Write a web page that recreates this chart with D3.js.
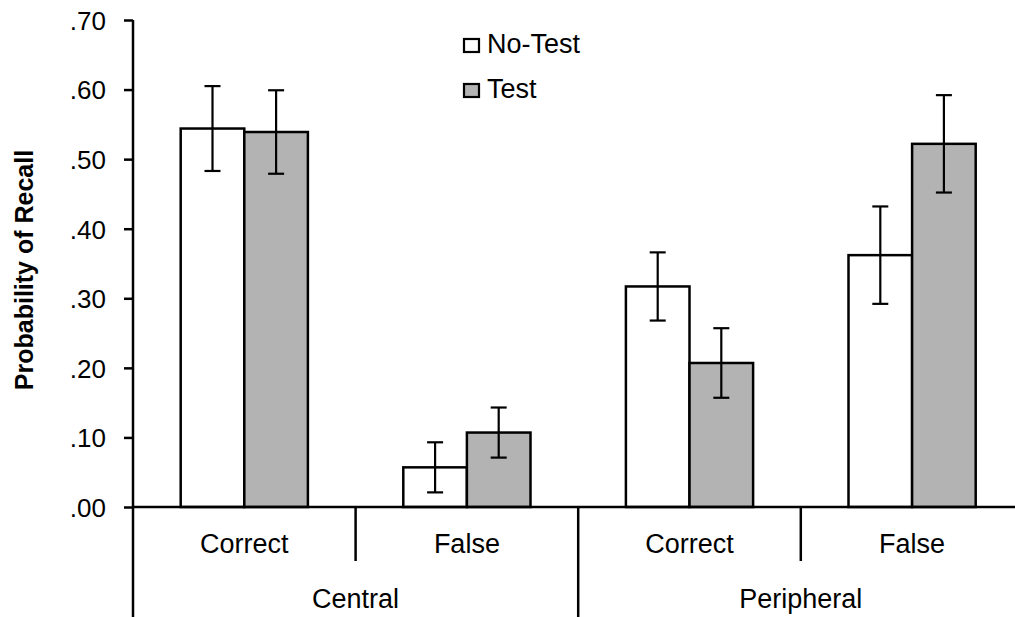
<!DOCTYPE html>
<html>
<head>
<meta charset="utf-8">
<script src="https://cdn.jsdelivr.net/npm/d3@7"></script>
<style>
  body { margin: 0; background: #fff; }
  text { font-family: "Liberation Sans", Arial, sans-serif; fill: #000; }
</style>
</head>
<body>
<div id="chart"></div>
<script>
// data
var groups = ["Central", "Peripheral"];
var conditions = ["Correct", "False"];
var series = ["No-Test", "Test"];
var noTestValues = [0.544, 0.057, 0.317, 0.362];
var noTestErrors = [0.061, 0.036, 0.049, 0.070];
var testValues = [0.539, 0.107, 0.207, 0.522];
var testErrors = [0.060, 0.036, 0.050, 0.070];
var yTicks = [0, 0.1, 0.2, 0.3, 0.4, 0.5, 0.6, 0.7];

function init() {
    var w = 1015;
    var h = 617;
    var left = 133;
    var top = 20;
    var bottom = 507;
    var bandW = 222.6;

    var svg = d3.select("#chart")
        .append("svg")
        .attr("width", w)
        .attr("height", h);

    // one key per group/condition pair
    var keys = [];
    groups.forEach(function(g) {
        conditions.forEach(function(c) { keys.push(g + "|" + c); });
    });

    var x0 = d3.scaleBand()
        .domain(keys)
        .range([left, left + bandW * keys.length]);

    var x1 = d3.scaleBand()
        .domain(series)
        .range([0, x0.bandwidth()])
        .paddingOuter(0.75)
        .paddingInner(0);

    var y = d3.scaleLinear()
        .domain([0, 0.7])
        .range([bottom, top]);

    var fills = { "No-Test": "#ffffff", "Test": "#b3b3b3" };

    var rows = [];
    keys.forEach(function(k, i) {
        rows.push({ key: k, s: "No-Test", v: noTestValues[i], e: noTestErrors[i] });
        rows.push({ key: k, s: "Test", v: testValues[i], e: testErrors[i] });
    });

    // bars
    svg.selectAll("rect.bar")
        .data(rows)
        .enter()
        .append("rect")
        .attr("class", "bar")
        .attr("x", function(d) { return x0(d.key) + x1(d.s); })
        .attr("y", function(d) { return y(d.v); })
        .attr("width", x1.bandwidth())
        .attr("height", function(d) { return y(0) - y(d.v); })
        .attr("fill", function(d) { return fills[d.s]; })
        .attr("stroke", "#000")
        .attr("stroke-width", 2.5);

    // error bars
    var cap = 8;
    var err = svg.selectAll("g.err")
        .data(rows)
        .enter()
        .append("g")
        .attr("class", "err")
        .attr("stroke", "#000")
        .attr("stroke-width", 2.2);
    err.append("line")
        .attr("x1", function(d) { return x0(d.key) + x1(d.s) + x1.bandwidth() / 2; })
        .attr("x2", function(d) { return x0(d.key) + x1(d.s) + x1.bandwidth() / 2; })
        .attr("y1", function(d) { return y(d.v + d.e); })
        .attr("y2", function(d) { return y(d.v - d.e); });
    [1, -1].forEach(function(sign) {
        err.append("line")
            .attr("x1", function(d) { return x0(d.key) + x1(d.s) + x1.bandwidth() / 2 - cap; })
            .attr("x2", function(d) { return x0(d.key) + x1(d.s) + x1.bandwidth() / 2 + cap; })
            .attr("y1", function(d) { return y(d.v + sign * d.e); })
            .attr("y2", function(d) { return y(d.v + sign * d.e); });
    });

    // y axis
    var yAxis = d3.axisLeft(y)
        .tickValues(yTicks)
        .tickSize(9)
        .tickPadding(18)
        .tickFormat(function(d) { return d3.format(".2f")(d).replace(/^0/, ""); });
    var ga = svg.append("g")
        .attr("transform", "translate(" + left + ",0)")
        .call(yAxis);
    ga.select(".domain").remove();
    ga.selectAll("line").attr("stroke", "#000").attr("stroke-width", 2.5);
    ga.selectAll("text")
        .style("font-size", "26px")
        .attr("dy", "0.36em");
    svg.append("line")
        .attr("x1", left).attr("x2", left)
        .attr("y1", top).attr("y2", h + 5)
        .attr("stroke", "#000").attr("stroke-width", 2.5);

    // x axis line
    svg.append("line")
        .attr("x1", left).attr("x2", w + 20)
        .attr("y1", y(0)).attr("y2", y(0))
        .attr("stroke", "#000").attr("stroke-width", 2.5);

    // separators between conditions and groups
    keys.forEach(function(k, i) {
        if (i === 0) return;
        var isGroup = i % conditions.length === 0;
        svg.append("line")
            .attr("x1", x0(k)).attr("x2", x0(k))
            .attr("y1", y(0)).attr("y2", isGroup ? h + 5 : 561)
            .attr("stroke", "#000").attr("stroke-width", 2.5);
    });

    // condition labels
    svg.selectAll("text.cond")
        .data(keys)
        .enter()
        .append("text")
        .attr("class", "cond")
        .attr("x", function(k) { return x0(k) + x0.bandwidth() / 2; })
        .attr("y", 553)
        .attr("text-anchor", "middle")
        .style("font-size", "27px")
        .text(function(k) { return k.split("|")[1]; });

    // group labels
    svg.selectAll("text.grp")
        .data(groups)
        .enter()
        .append("text")
        .attr("class", "grp")
        .attr("x", function(g) {
            return x0(g + "|" + conditions[0]) + x0.bandwidth() * conditions.length / 2;
        })
        .attr("y", 608)
        .attr("text-anchor", "middle")
        .style("font-size", "27px")
        .text(function(g) { return g; });

    // y title
    svg.append("text")
        .attr("transform", "translate(33,270) rotate(-90)")
        .attr("text-anchor", "middle")
        .style("font-size", "25px")
        .style("font-weight", "bold")
        .text("Probability of Recall");

    // legend
    var leg = svg.selectAll("g.leg")
        .data(series)
        .enter()
        .append("g")
        .attr("class", "leg")
        .attr("transform", function(d, i) { return "translate(464," + (39 + i * 45) + ")"; });
    leg.append("rect")
        .attr("width", 15)
        .attr("height", 13)
        .attr("fill", function(d) { return fills[d]; })
        .attr("stroke", "#000")
        .attr("stroke-width", 2.2);
    leg.append("text")
        .attr("x", 23)
        .attr("y", 14)
        .style("font-size", "27px")
        .text(function(d) { return d; });
}
window.onload = init;
</script>
</body>
</html>
